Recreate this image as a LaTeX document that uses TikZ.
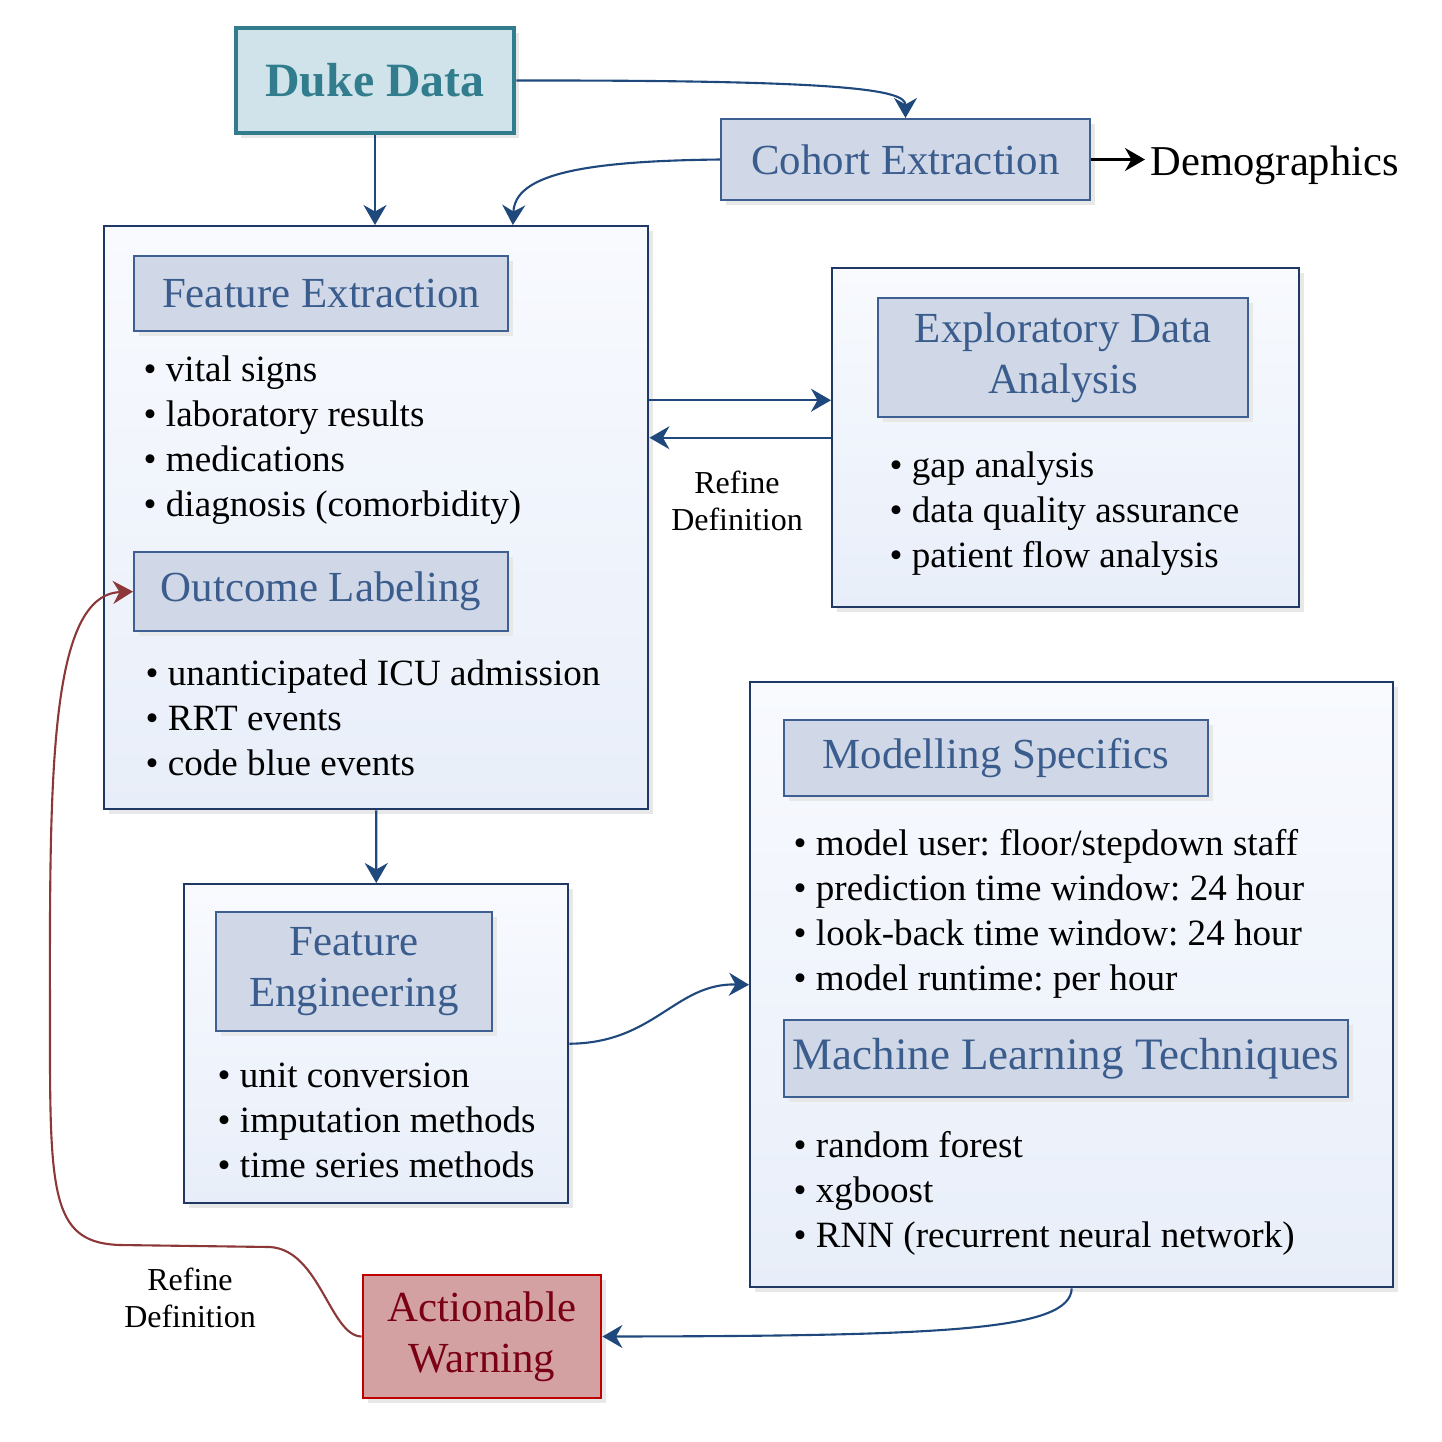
\documentclass[tikz,border=0pt]{standalone}
\usepackage{fontspec}
\setmainfont{Liberation Serif}
\frenchspacing
\usetikzlibrary{positioning, arrows.meta, shadows, calc}
\definecolor{boxline}{RGB}{31,56,100}
\definecolor{gradtop}{RGB}{248,250,254}
\definecolor{gradbot}{RGB}{232,238,249}
\definecolor{titlefill}{RGB}{208,216,231}
\definecolor{titleline}{RGB}{61,95,145}
\definecolor{titletext}{RGB}{59,93,142}
\definecolor{dukefill}{RGB}{208,227,234}
\definecolor{dukeline}{RGB}{49,125,141}
\definecolor{warnfill}{RGB}{212,161,163}
\definecolor{warnline}{RGB}{192,0,0}
\definecolor{warntext}{RGB}{122,0,20}
\definecolor{connblue}{RGB}{31,73,125}
\definecolor{connred}{RGB}{140,56,56}
\tikzset{
  outerbox/.style={ % big panels with a light gradient
    rectangle, draw=boxline, line width=0.7pt,
    top color=gradtop, bottom color=gradbot,
    drop shadow={shadow xshift=0.05cm, shadow yshift=-0.05cm, fill=black!9, opacity=1},
    inner sep=0pt, anchor=north west
  },
  titlebox/.style={ % headings inside the panels
    rectangle, draw=titleline, line width=0.6pt, fill=titlefill,
    text=titletext, font=\fontsize{12.2}{14.5}\selectfont, align=center,
    drop shadow={shadow xshift=0.05cm, shadow yshift=-0.05cm, fill=black!9, opacity=1},
    inner sep=0pt
  },
  items/.style={ % bullet lists
    align=left, inner sep=0pt, anchor=north west,
    font=\fontsize{10.55}{12.8}\selectfont
  },
  note/.style={align=center, inner sep=0pt, font=\fontsize{9.1}{10.5}\selectfont},
  conn/.style={ % blue connections
    -{Stealth[length=2mm, width=2.3mm]}, line width=0.6pt, draw=connblue
  },
}

\begin{document}
\begin{tikzpicture}
		\useasboundingbox (0,0) rectangle (14.42,-14.42);
		% top row
		\node[rectangle, draw=dukeline, line width=1.4pt, fill=dukefill, text=dukeline,
		      font=\fontsize{13.6}{16}\selectfont\bfseries, minimum width=2.78cm, minimum height=1.05cm,
		      drop shadow={shadow xshift=0.05cm, shadow yshift=-0.05cm, fill=black!9, opacity=1}]
		      (duke) at (3.75,-0.805) {Duke Data};
		\node[titlebox, minimum width=3.69cm, minimum height=0.81cm] (cohort) at (9.055,-1.595) {Cohort Extraction};
		\node[inner sep=0.05cm, anchor=west, font=\fontsize{12.1}{14}\selectfont] (demo) at (11.45,-1.65) {Demographics};
		\draw[-{Stealth[length=2mm, width=2.3mm]}, line width=0.6pt] (cohort.east) -- (cohort.east -| demo.west);
		% feature extraction and outcome labeling
		\node[outerbox, minimum width=5.44cm, minimum height=5.83cm] (fe) at (1.03,-2.25) {};
		\node[titlebox, minimum width=3.74cm, minimum height=0.75cm, below right=0.30cm and 0.30cm of fe.north west] (fetitle) {Feature Extraction};
		\node[items, below right=1.30cm and 0.40cm of fe.north west] (felist) {\textbullet{} vital signs\\ \textbullet{} laboratory results\\ \textbullet{} medications\\ \textbullet{} diagnosis (comorbidity)};
		\node[titlebox, minimum width=3.74cm, minimum height=0.79cm, below right=3.26cm and 0.30cm of fe.north west] (oltitle) {Outcome Labeling};
		\node[items, below right=4.34cm and 0.42cm of fe.north west] (ollist) {\textbullet{} unanticipated ICU admission\\ \textbullet{} RRT events\\ \textbullet{} code blue events};
		% exploratory data analysis
		\node[outerbox, minimum width=4.67cm, minimum height=3.39cm] (eda) at (8.31,-2.67) {};
		\node[titlebox, minimum width=3.70cm, minimum height=1.19cm, below right=0.30cm and 0.46cm of eda.north west] (edatitle) {Exploratory Data\\ Analysis};
		\node[items, below right=1.84cm and 0.58cm of eda.north west] (edalist) {\textbullet{} gap analysis\\ \textbullet{} data quality assurance\\ \textbullet{} patient flow analysis};
		% feature engineering
		\node[outerbox, minimum width=3.84cm, minimum height=3.19cm] (feng) at (1.83,-8.83) {};
		\node[titlebox, minimum width=2.76cm, minimum height=1.19cm, below right=0.28cm and 0.32cm of feng.north west] (fengtitle) {Feature\\ Engineering};
		\node[items, below right=1.79cm and 0.34cm of feng.north west] (fenglist) {\textbullet{} unit conversion\\ \textbullet{} imputation methods\\ \textbullet{} time series methods};
		% modelling
		\node[outerbox, minimum width=6.43cm, minimum height=6.05cm] (mod) at (7.49,-6.81) {};
		\node[titlebox, minimum width=4.24cm, minimum height=0.76cm, below right=0.38cm and 0.34cm of mod.north west] (modtitle) {Modelling Specifics};
		\node[items, below right=1.48cm and 0.44cm of mod.north west] (modlist) {\textbullet{} model user: floor/stepdown staff\\ \textbullet{} prediction time window: 24 hour\\ \textbullet{} look-back time window: 24 hour\\ \textbullet{} model runtime: per hour};
		\node[titlebox, font=\fontsize{12.8}{14.5}\selectfont, minimum width=5.64cm, minimum height=0.77cm, below right=3.38cm and 0.34cm of mod.north west] (mltitle) {Machine Learning Techniques};
		\node[items, below right=4.50cm and 0.44cm of mod.north west] (mllist) {\textbullet{} random forest\\ \textbullet{} xgboost\\ \textbullet{} RNN (recurrent neural network)};
		% warning
		\node[rectangle, draw=warnline, line width=0.8pt, fill=warnfill, text=warntext, align=center,
		      font=\fontsize{12.2}{14.5}\selectfont, minimum width=2.38cm, minimum height=1.23cm,
		      drop shadow={shadow xshift=0.05cm, shadow yshift=-0.05cm, fill=black!9, opacity=1}]
		      (warn) at (4.82,-13.365) {Actionable\\ Warning};
		% connections
		\draw[conn] (duke.east) .. controls (8.5,-0.80) and (9.055,-0.90) .. (cohort.north);
		\draw[conn] (duke.south) -- (duke.south |- fe.north);
		\draw[conn] (cohort.west) .. controls (5.8,-1.61) and (5.15,-1.75) .. ($(fe.north west)!0.75!(fe.north east)$);
		\coordinate (fwd) at ([yshift=0.375cm]eda.west);
		\draw[conn] (fe.east |- fwd) -- (fwd);
		\draw[conn] (eda.west) -- (eda.west -| fe.east);
		\node[note] (refine1) at (7.37,-5.01) {Refine\\ Definition};
		\draw[conn] (fe.south) -- (feng.north);
		\draw[conn] (feng.east) .. controls (6.55,-10.43) and (6.75,-9.83) .. (mod.west);
		\draw[conn] (mod.south) .. controls (10.70,-13.30) and (9.50,-13.36) .. (warn.east);
		\draw[conn, draw=connred] (warn.west) .. controls (3.30,-13.36) and (3.20,-12.50) .. (2.70,-12.47)
		      -- (1.20,-12.45) .. controls (0.55,-12.43) and (0.50,-12.00) .. (0.50,-10.50)
		      .. controls (0.50,-8.00) and (0.45,-5.95) .. (oltitle.west);
		\node[note] (refine2) at (1.90,-12.98) {Refine\\ Definition};
	\end{tikzpicture}
\end{document}
